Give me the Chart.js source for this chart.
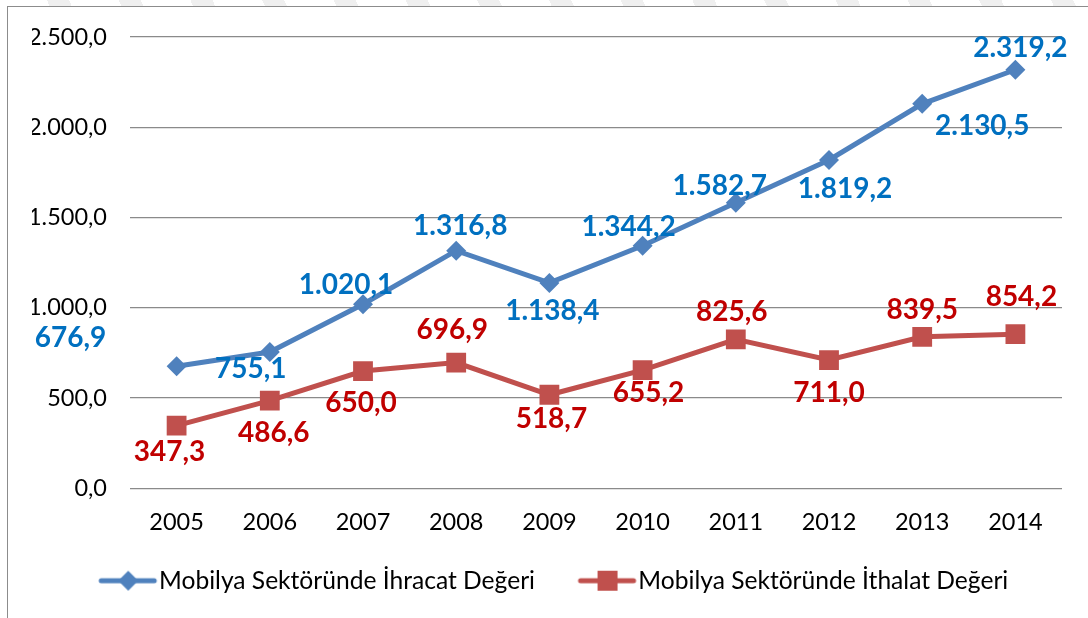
<!DOCTYPE html>
<html>
<head>
<meta charset="utf-8">
<script src="https://cdn.jsdelivr.net/npm/chart.js@4/dist/chart.umd.min.js"></script>
<style>
  html, body { margin: 0; padding: 0; background: #fff; }
  #wrap { position: relative; width: 1088px; height: 618px; overflow: hidden; background: #fff; }
  #stripes { position: absolute; left: 0; top: 0; width: 1088px; height: 6px;
    background: repeating-linear-gradient(65deg, #fff 0px, #fff 45px, #efefef 45px, #efefef 65px); }
  #frame { position: absolute; left: 7px; top: 6px; width: 1100px; height: 620px; border-left: 1.5px solid #8c8c8c; border-top: 1.5px solid #8c8c8c; }
  canvas { position: absolute; left: 0; top: 0; }
</style>
</head>
<body>
<div id="wrap">
  <div id="stripes"></div>
  <div id="frame"></div>
  <canvas id="c" width="1088" height="618"></canvas>
</div>
<script>
const years = ['2005','2006','2007','2008','2009','2010','2011','2012','2013','2014'];
const exportValues = [676.9, 755.1, 1020.1, 1316.8, 1138.4, 1344.2, 1582.7, 1819.2, 2130.5, 2319.2];
const importValues = [347.3, 486.6, 650.0, 696.9, 518.7, 655.2, 825.6, 711.0, 839.5, 854.2];
const seriesNames = ['Mobilya Sektöründe İhracat Değeri', 'Mobilya Sektöründe İthalat Değeri'];
const yTicks = [0, 500, 1000, 1500, 2000, 2500];

// label offsets relative to each point (layout only)
const exportLabelOffsets = [[-106,-28],[-19,17],[-17,-19],[4,-25],[3,28],[-14,-19],[-16,-17],[16,29],[60,22],[5,-22]];
const importLabelOffsets = [[-7,26],[4,32],[-2,32],[-4,-33],[2,24],[6,23],[-4,-27],[0,33],[0,-27],[6,-37]];

const FONT = 'Lato, "Open Sans", sans-serif';
const LEGEND_BOX = 61;

function fmtTR(v) {
  const neg = v < 0; v = Math.abs(v);
  let s = v.toFixed(1);
  let [ip, dp] = s.split('.');
  ip = ip.replace(/\B(?=(\d{3})+(?!\d))/g, '.');
  return (neg ? '-' : '') + ip + ',' + dp;
}

function legendIcon(color, style) {
  const c = document.createElement('canvas');
  c.width = LEGEND_BOX * 2; c.height = 24;
  const g = c.getContext('2d');
  g.strokeStyle = color; g.lineWidth = 5; g.lineCap = 'round';
  g.beginPath(); g.moveTo(46, 12); g.lineTo(99, 12); g.stroke();
  g.fillStyle = color;
  if (style === 'diamond') {
    g.beginPath(); g.moveTo(73, 2); g.lineTo(83, 12); g.lineTo(73, 22); g.lineTo(63, 12); g.closePath(); g.fill();
  } else {
    g.fillRect(63, 2, 20, 20);
  }
  return c;
}

const blue = '#4F81BD', red = '#C0504D';
const blueText = '#0070C0', redText = '#C00000';
const icons = [legendIcon(blue, 'diamond'), legendIcon(red, 'square')];

const labelPlugin = {
  id: 'valueLabels',
  afterDatasetsDraw(chart) {
    const ctx = chart.ctx;
    ctx.save();
    ctx.font = 'bold 28px ' + FONT;
    ctx.textAlign = 'center';
    ctx.textBaseline = 'middle';
    chart.data.datasets.forEach((ds, i) => {
      const meta = chart.getDatasetMeta(i);
      const offs = i === 0 ? exportLabelOffsets : importLabelOffsets;
      ctx.fillStyle = i === 0 ? blueText : redText;
      meta.data.forEach((pt, j) => {
        ctx.fillText(fmtTR(ds.data[j]), pt.x + offs[j][0], pt.y + offs[j][1]);
      });
    });
    ctx.restore();
  }
};

new Chart(document.getElementById('c'), {
  type: 'line',
  data: {
    labels: years,
    datasets: [
      { label: seriesNames[0], data: exportValues, borderColor: blue, backgroundColor: blue,
        borderWidth: 5, pointStyle: 'rectRot', pointRadius: 10, pointHoverRadius: 10,
        pointBackgroundColor: blue, pointBorderColor: blue, pointBorderWidth: 0, tension: 0 },
      { label: seriesNames[1], data: importValues, borderColor: red, backgroundColor: red,
        borderWidth: 5, pointStyle: 'rect', pointRadius: 14, pointHoverRadius: 14,
        pointBackgroundColor: red, pointBorderColor: red, pointBorderWidth: 0, tension: 0 }
    ]
  },
  options: {
    responsive: false,
    animation: false,
    events: [],
    layout: { padding: { left: 32, right: 26, top: 35, bottom: 15 } },
    plugins: {
      tooltip: { enabled: false },
      legend: {
        position: 'bottom',
        labels: {
          usePointStyle: true,
          pointStyleWidth: LEGEND_BOX,
          padding: 30,
          color: '#000',
          font: { family: FONT, size: 24.6 },
          generateLabels(chart) {
            return chart.data.datasets.map((ds, i) => ({
              text: ds.label, pointStyle: icons[i], fillStyle: 'transparent',
              strokeStyle: 'transparent', lineWidth: 0, datasetIndex: i, fontColor: '#000'
            }));
          }
        }
      }
    },
    scales: {
      x: {
        offset: true,
        grid: { display: false, drawTicks: false },
        border: { display: false },
        ticks: { color: '#000', font: { family: FONT, size: 23.5 }, padding: 20, maxRotation: 0 },
        afterFit(s) { s.height = 50; }
      },
      y: {
        min: 0, max: 2500,
        afterBuildTicks(s) { s.ticks = yTicks.map(v => ({ value: v })); },
        grid: { color: '#8a8a8a', lineWidth: 1.3, drawTicks: false },
        border: { display: false },
        ticks: { color: '#000', font: { family: FONT, size: 23.5 }, padding: 23, callback: v => fmtTR(v) },
        afterFit(s) { s.width = 98; }
      }
    }
  },
  plugins: [labelPlugin]
});
</script>
</body>
</html>
